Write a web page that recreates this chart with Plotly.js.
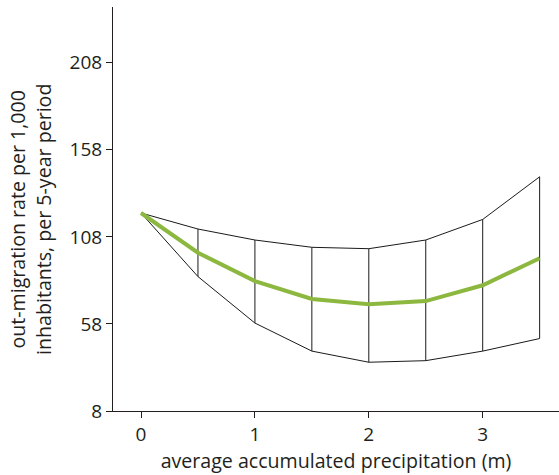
<!DOCTYPE html>
<html>
<head>
<meta charset="utf-8">
<script src="https://cdn.plot.ly/plotly-3.0.1.min.js"></script>
<style>
  html, body { margin: 0; padding: 0; background: #fff; }
  #chart { width: 559px; height: 475px; }
</style>
</head>
<body>
<div id="chart"></div>
<script>
// Precipitation (m) at which the rate is evaluated
const precip = [0, 0.5, 1, 1.5, 2, 2.5, 3, 3.5];
// Predicted out-migration rate and its upper / lower bounds
const rateMean  = [121.7, 98.9, 82.6, 72.3, 69.3, 71.1, 80.2, 95.7];
const rateUpper = [121.7, 112.5, 106.2, 102.0, 101.2, 106.2, 118.0, 142.5];
const rateLower = [121.7, 85.2, 58.5, 42.4, 36.0, 36.9, 42.4, 49.6];
// Axis ticks
const xTicks = [0, 1, 2, 3];
const yTicks = [8, 58, 108, 158, 208];

const ink = '#231f20';
const fontFamily = '"Open Sans", "Noto Sans", sans-serif';

// Vertical rungs joining lower and upper bound at each evaluated point
const rungX = [], rungY = [];
for (let i = 1; i < precip.length; i++) {
  rungX.push(precip[i], precip[i], null);
  rungY.push(rateLower[i], rateUpper[i], null);
}

const traces = [
  { x: precip, y: rateUpper, mode: 'lines', line: { color: '#1a1a1a', width: 1 }, hoverinfo: 'skip' },
  { x: precip, y: rateLower, mode: 'lines', line: { color: '#1a1a1a', width: 1 }, hoverinfo: 'skip' },
  { x: rungX, y: rungY, mode: 'lines', line: { color: '#1a1a1a', width: 1 }, hoverinfo: 'skip' },
  { x: precip, y: rateMean, mode: 'lines', line: { color: '#8cb83f', width: 4 } }
];

const layout = {
  width: 559, height: 475,
  margin: { l: 113, r: 0, t: 7, b: 64 },
  paper_bgcolor: '#fff', plot_bgcolor: '#fff',
  showlegend: false,
  font: { family: fontFamily, color: ink, size: 19 },
  xaxis: {
    range: [-0.246, 3.67],
    tickvals: xTicks, ticktext: xTicks.map(String),
    ticks: 'outside', ticklen: 6, tickwidth: 1, tickcolor: ink,
    showline: true, linecolor: ink, linewidth: 1,
    showgrid: false, zeroline: false,
    tickfont: { size: 19, color: ink },
    title: { text: 'average accumulated precipitation (m)', font: { size: 19.6, color: ink }, standoff: 1 }
  },
  yaxis: {
    range: [8, 240],
    tickvals: yTicks, ticktext: yTicks.map(String),
    ticks: 'outside', ticklen: 6, tickwidth: 1, tickcolor: ink,
    showline: true, linecolor: ink, linewidth: 1,
    showgrid: false, zeroline: false,
    tickfont: { size: 19, color: ink }
  },
  annotations: [{
    text: 'out-migration rate per 1,000<br>inhabitants, per 5-year period',
    xref: 'paper', yref: 'paper', x: 0, y: 0.473,
    xshift: -83, xanchor: 'center', yanchor: 'middle',
    textangle: -90, showarrow: false,
    font: { size: 19.6, color: ink }
  }]
};

Plotly.newPlot('chart', traces, layout, { displayModeBar: false, staticPlot: true });
</script>
</body>
</html>
